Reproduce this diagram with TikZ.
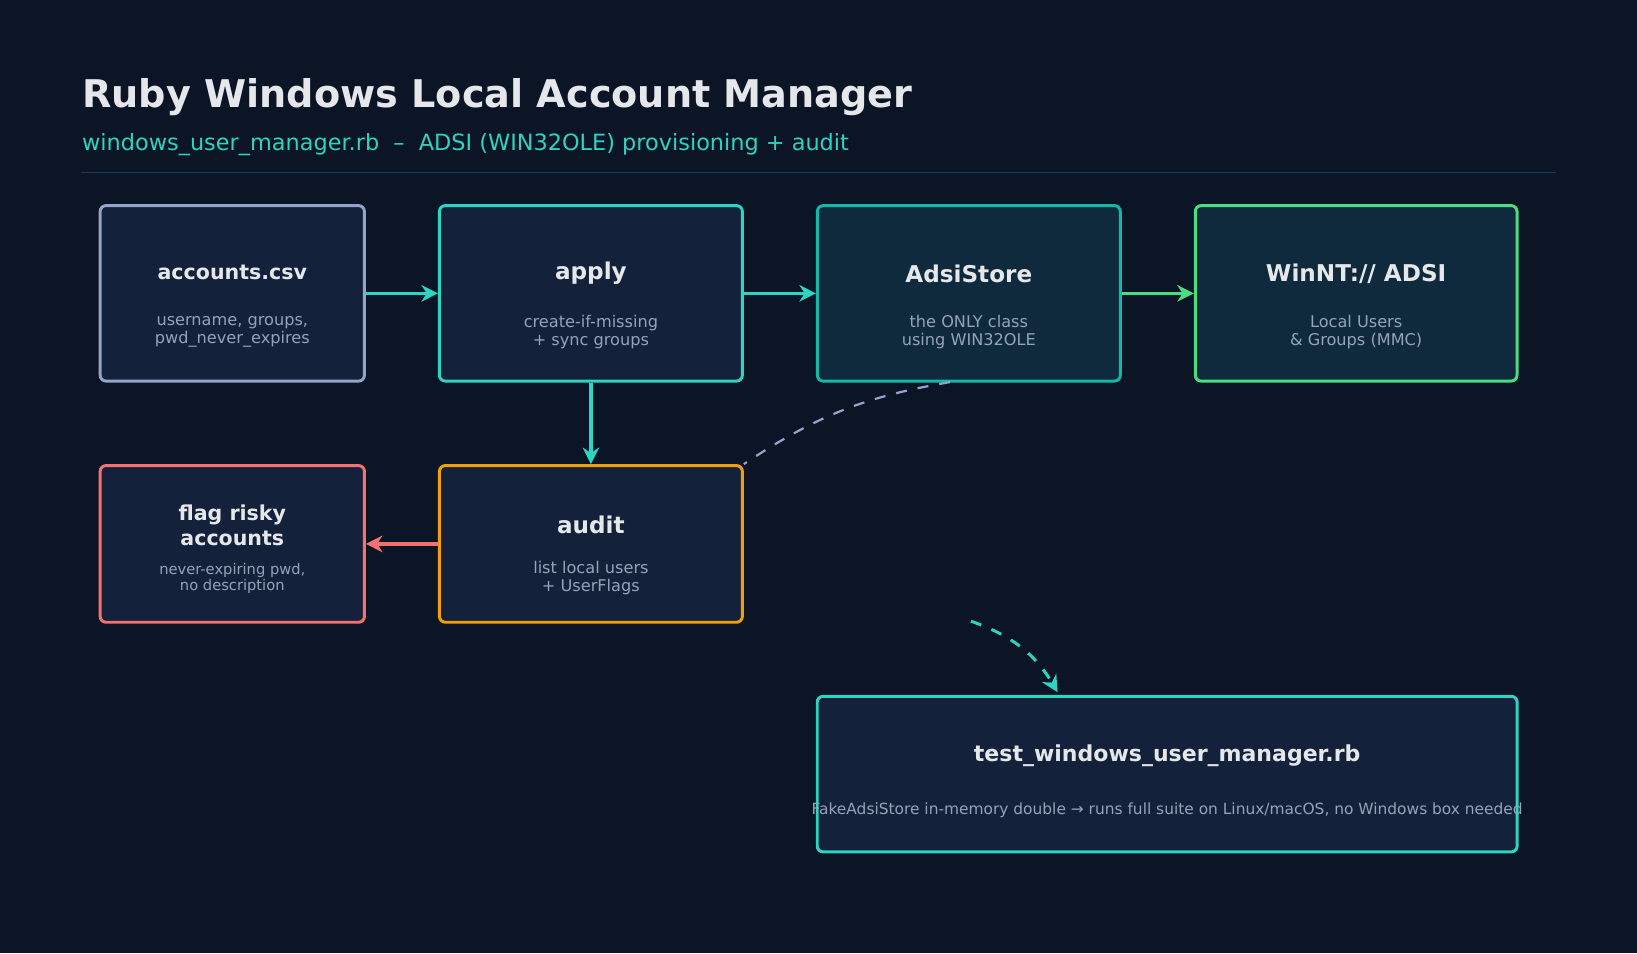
\documentclass[tikz,border=0pt]{standalone}
\usepackage{fontspec}
\setmainfont{DejaVu Sans}
\usetikzlibrary{positioning, arrows.meta}
\definecolor{bgc}{HTML}{0B1526}
\definecolor{boxc}{HTML}{13223A}
\definecolor{boxd}{HTML}{0F2A3C}
\definecolor{txt}{HTML}{E5E7EB}
\definecolor{subc}{HTML}{94A3B8}
\definecolor{teal}{HTML}{2DD4BF}
\definecolor{tealb}{HTML}{14B8A6}
\definecolor{grn}{HTML}{4ADE80}
\definecolor{red}{HTML}{F87171}
\definecolor{amb}{HTML}{F59E0B}
\definecolor{slate}{HTML}{94A3C8}
\definecolor{rule}{HTML}{1E3A5F}
\tikzset{
box/.style={draw, line width=0.8pt, rounded corners=1.6pt, fill=boxc, inner sep=0pt}, % every card
ttl/.style={text=txt, font=\fontsize{6}{7}\selectfont\bfseries, align=center},
sub/.style={text=subc, font=\fontsize{4.4}{4.9}\selectfont, align=center},
flow/.style={-{Stealth[length=4.5pt,width=4.5pt]}, line width=1pt},
}
\begin{document}
\begin{tikzpicture}[x=0.01cm, y=-0.01cm]
\fill[bgc] (0,0) rectangle (1568,913);
\useasboundingbox (0,0) rectangle (1568,913);
% header
\node[anchor=base west, inner sep=0pt, text=txt, font=\fontsize{10.4}{12}\selectfont\bfseries] (title) at (78,103) {Ruby Windows Local Account Manager};
\node[anchor=base west, inner sep=0pt, text=teal, font=\fontsize{6.1}{8}\selectfont] (subtitle) at (78,144) {windows\_user\_manager.rb \ – \ ADSI (WIN32OLE) provisioning + audit};
\draw[rule, line width=0.4pt] (78,165) -- (1490,165);
% cards
\node[box, draw=slate, minimum width=2.53cm, minimum height=1.68cm] (csv) at (222.5,281) {};
\node[box, draw=teal, minimum width=2.9cm, minimum height=1.68cm] (apply) at (566,281) {};
\node[box, draw=tealb, fill=boxd, minimum width=2.9cm, minimum height=1.68cm] (adsi) at (928,281) {};
\node[box, draw=grn, fill=boxd, minimum width=3.08cm, minimum height=1.68cm] (winnt) at (1299,281) {};
\node[box, draw=red, minimum width=2.53cm, minimum height=1.5cm] (flag) at (222.5,521) {};
\node[box, draw=amb, minimum width=2.9cm, minimum height=1.5cm] (audit) at (566,521) {};
\node[box, draw=teal, minimum width=6.7cm, minimum height=1.49cm] (test) at (1118,741.5) {};
% texts
\node[ttl, font=\fontsize{5.6}{7}\selectfont\bfseries] (csvT) at (222.5,261) {accounts.csv};
\node[sub] (csvS) at (222.5,318) {username, groups,\\pwd\_never\_expires};
\node[ttl, font=\fontsize{6.3}{7}\selectfont\bfseries] (applyT) at (566,262) {apply};
\node[sub] (applyS) at (566,318) {create-if-missing\\+ sync groups};
\node[ttl, font=\fontsize{6.3}{7}\selectfont\bfseries] (adsiT) at (928,262) {AdsiStore};
\node[sub] (adsiS) at (928,318) {the ONLY class\\using WIN32OLE};
\node[ttl, font=\fontsize{6.3}{7}\selectfont\bfseries] (winntT) at (1299,262) {WinNT:// ADSI};
\node[sub] (winntS) at (1299,318) {Local Users\\\& Groups (MMC)};
\node[ttl, font=\fontsize{5.6}{6.7}\selectfont\bfseries] (flagT) at (222.5,503) {flag risky\\accounts};
\node[sub, font=\fontsize{4}{4.5}\selectfont] (flagS) at (222.5,554) {never-expiring pwd,\\no description};
\node[ttl, font=\fontsize{6.3}{7}\selectfont\bfseries] (auditT) at (566,503) {audit};
\node[sub] (auditS) at (566,554) {list local users\\+ UserFlags};
\node[ttl, font=\fontsize{6}{7}\selectfont\bfseries] (testT) at (1118,724) {test\_windows\_user\_manager.rb};
\node[sub, font=\fontsize{4.2}{5}\selectfont] (testS) at (1118,776) {FakeAdsiStore in-memory double → runs full suite on Linux/macOS, no Windows box needed};
% connectors
\draw[flow, teal] (csv) -- (apply);
\draw[flow, teal] (apply) -- (adsi);
\draw[flow, grn] (adsi) -- (winnt);
\draw[flow, teal] (apply) -- (audit);
\draw[flow, red] (audit) -- (flag);
\coordinate (dashA) at (910,366);
\coordinate (dashB) at (930,595);
\coordinate (dashC) at (1013,663);
\draw[slate, dashed, line width=0.6pt] (dashA) to[bend right=12] (audit.north east);
\draw[teal, dashed, line width=0.8pt, -{Stealth[length=4.5pt,width=4.5pt]}] (dashB) to[bend left=20] (dashC);
\end{tikzpicture}
\end{document}
